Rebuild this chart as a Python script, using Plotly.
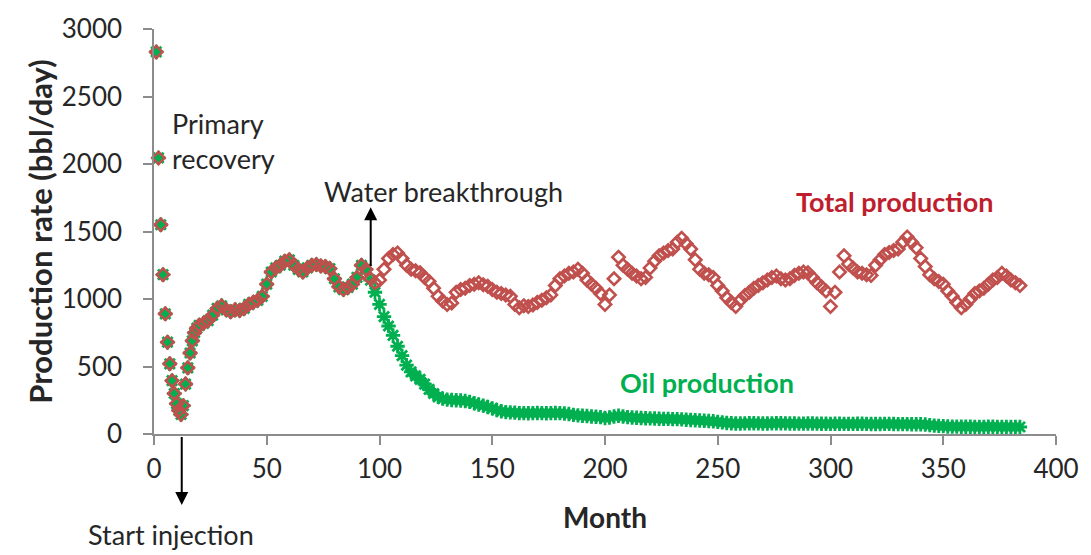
import plotly.graph_objects as go

# Monthly rates, month 1-20, then every second month
months = list(range(1, 21)) + list(range(22, 385, 2))

total_rate = [
    2830, 2045, 1550, 1180, 890, 680, 520, 395, 300, 225,
    175, 145, 210, 370, 490, 600, 690, 750, 785, 805,
    # 22 .. 60
    820, 840, 880, 930, 950, 920, 905, 920, 915, 930,
    960, 975, 990, 1020, 1110, 1200, 1230, 1250, 1280, 1290,
    # 62 .. 100
    1250, 1220, 1200, 1230, 1250, 1255, 1245, 1240, 1225, 1150,
    1090, 1070, 1085, 1110, 1160, 1250, 1220, 1150, 1120, 1140,
    # 102 .. 140
    1220, 1300, 1330, 1340, 1300, 1250, 1220, 1210, 1195, 1160,
    1130, 1080, 1020, 985, 960, 970, 1050, 1070, 1080, 1100,
    # 142 .. 180
    1110, 1120, 1105, 1095, 1070, 1050, 1040, 1030, 1020, 960,
    935, 950, 945, 955, 975, 990, 1010, 1030, 1100, 1150,
    # 182 .. 220
    1170, 1190, 1200, 1220, 1190, 1140, 1110, 1080, 1040, 960,
    1030, 1150, 1310, 1250, 1220, 1190, 1170, 1150, 1160, 1230,
    # 222 .. 260
    1280, 1320, 1340, 1360, 1370, 1420, 1450, 1410, 1370, 1290,
    1220, 1190, 1180, 1160, 1100, 1060, 1010, 975, 945, 990,
    # 262 .. 300
    1025, 1050, 1080, 1100, 1120, 1140, 1160, 1170, 1150, 1140,
    1150, 1175, 1190, 1200, 1195, 1160, 1120, 1090, 1060, 945,
    # 302 .. 340
    1050, 1200, 1320, 1260, 1230, 1200, 1190, 1180, 1175, 1250,
    1290, 1330, 1345, 1360, 1370, 1420, 1460, 1420, 1380, 1300,
    # 342 .. 384
    1240, 1180, 1150, 1130, 1110, 1060, 1020, 975, 935, 960,
    1000, 1040, 1060, 1080, 1110, 1140, 1160, 1190, 1170, 1140,
    1120, 1100,
]

oil_rate = [
    2830, 2045, 1550, 1180, 890, 680, 520, 395, 300, 225,
    175, 145, 210, 370, 490, 600, 690, 750, 785, 805,
    # 22 .. 60
    820, 840, 880, 930, 950, 920, 905, 920, 915, 930,
    960, 975, 990, 1020, 1110, 1200, 1230, 1250, 1280, 1290,
    # 62 .. 100
    1250, 1220, 1200, 1230, 1250, 1255, 1245, 1240, 1225, 1150,
    1090, 1070, 1085, 1110, 1160, 1250, 1220, 1140, 1050, 960,
    # 102 .. 140
    870, 800, 730, 650, 580, 510, 460, 430, 405, 370,
    330, 300, 275, 262, 255, 252, 250, 248, 245, 238,
    # 142 .. 180
    228, 218, 210, 200, 190, 178, 168, 162, 160, 158,
    155, 155, 154, 155, 156, 155, 154, 155, 156, 155,
    # 182 .. 220
    152, 148, 142, 138, 135, 133, 130, 128, 125, 118,
    122, 130, 135, 130, 125, 122, 120, 118, 117, 116,
    # 222 .. 260
    115, 113, 112, 112, 110, 110, 108, 106, 104, 102,
    100, 98, 96, 94, 90, 86, 82, 80, 78, 78,
    # 262 .. 300
    79, 80, 80, 79, 78, 78, 79, 80, 80, 79,
    78, 78, 77, 77, 78, 78, 77, 76, 76, 75,
    # 302 .. 340
    76, 76, 75, 75, 75, 76, 76, 75, 74, 74,
    74, 75, 75, 74, 73, 73, 73, 72, 72, 72,
    # 342 .. 384
    70, 66, 62, 60, 58, 56, 55, 55, 54, 54,
    54, 53, 53, 53, 54, 54, 53, 53, 52, 52,
    52, 52,
]

x_ticks = [0, 50, 100, 150, 200, 250, 300, 350, 400]
y_ticks = [0, 500, 1000, 1500, 2000, 2500, 3000]

FONT = "Lato"
TEXT = "#262626"
AXIS = "#8c8c8c"
RED = "#C0504D"
GREEN = "#00B050"

fig = go.Figure()

# oil drawn first so the open diamonds of the total sit on top
fig.add_trace(go.Scatter(
    x=months, y=oil_rate, mode="markers", name="Oil production",
    marker=dict(symbol="asterisk-open", size=12, color=GREEN,
                line=dict(color=GREEN, width=2.8)),
    cliponaxis=False,
))
fig.add_trace(go.Scatter(
    x=months, y=total_rate, mode="markers", name="Total production",
    marker=dict(symbol="diamond-open", size=9.5, color=RED,
                line=dict(color=RED, width=2.6)),
    cliponaxis=False,
))

axis_common = dict(
    showline=True, linecolor=AXIS, linewidth=1.5,
    ticks="outside", tickcolor=AXIS, ticklen=9, tickwidth=1.5,
    showgrid=False, zeroline=False,
    tickfont=dict(family=FONT, size=26, color=TEXT),
)

fig.update_xaxes(
    range=[0, 400], tickvals=x_ticks, ticklabelstandoff=2,
    title=dict(text="<b>Month</b>", font=dict(family=FONT, size=28, color=TEXT),
               standoff=25),
    **axis_common,
)
fig.update_yaxes(
    range=[0, 3000], tickvals=y_ticks, ticklabelstandoff=16,
    title=dict(text="<b>Production rate (bbl/day)</b>",
               font=dict(family=FONT, size=31, color=TEXT), standoff=0),
    **axis_common,
)

label_font = dict(family=FONT, size=27, color=TEXT)

fig.add_annotation(x=7.2, y=2170, xref="x", yref="y", text="Primary<br>recovery",
                   showarrow=False, xanchor="left", yanchor="middle", align="left",
                   font=label_font)
fig.add_annotation(x=74.5, y=1800, xref="x", yref="y", text="Water breakthrough",
                   showarrow=False, xanchor="left", yanchor="middle", font=label_font)
# arrow pointing up at breakthrough
fig.add_annotation(x=96.1, y=1680, ax=96.1, ay=1234, xref="x", yref="y",
                   axref="x", ayref="y", text="", showarrow=True,
                   arrowhead=2, arrowsize=1.3, arrowwidth=2, arrowcolor="#000000")
# arrow pointing down at start of injection
fig.add_annotation(x=12.3, y=-0.175, ax=12.3, ay=-0.004, xref="x", yref="y domain",
                   axref="x", ayref="y domain", text="", showarrow=True,
                   arrowhead=2, arrowsize=1.3, arrowwidth=2, arrowcolor="#000000")
fig.add_annotation(x=0.019, y=-0.248, xref="paper", yref="paper", text="Start injection",
                   showarrow=False, xanchor="center", yanchor="middle", font=label_font)

fig.add_annotation(x=328.6, y=1725, xref="x", yref="y", text="<b>Total production</b>",
                   showarrow=False, xanchor="center", yanchor="middle",
                   font=dict(family=FONT, size=27, color="#BE1E2D"))
fig.add_annotation(x=245.2, y=385, xref="x", yref="y", text="<b>Oil production</b>",
                   showarrow=False, xanchor="center", yanchor="middle",
                   font=dict(family=FONT, size=27, color=GREEN))

fig.update_layout(
    width=1091, height=555,
    margin=dict(l=154, r=30, t=23, b=121),
    paper_bgcolor="white", plot_bgcolor="white",
    showlegend=False,
    font=dict(family=FONT, color=TEXT),
)

fig.write_html("out.html")
